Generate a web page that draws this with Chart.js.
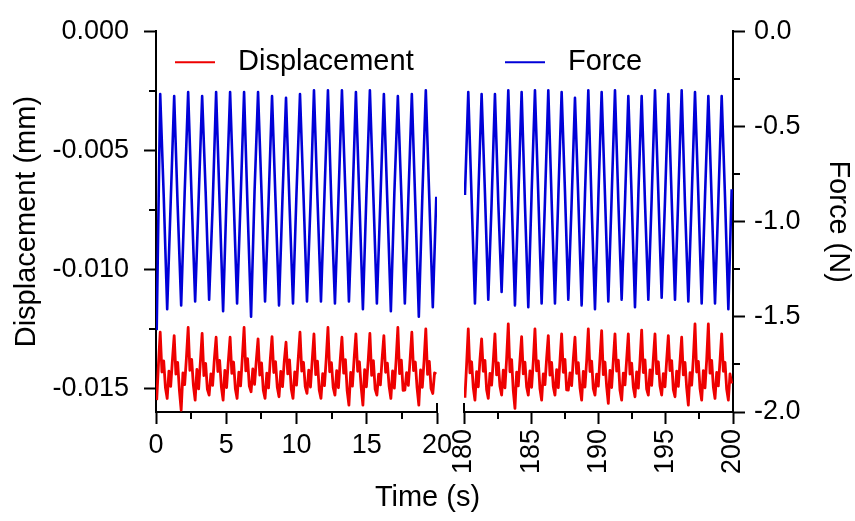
<!DOCTYPE html>
<html>
<head>
<meta charset="utf-8">
<title>Displacement and force</title>
<script src="https://cdn.jsdelivr.net/npm/chart.js@4.4.1/dist/chart.umd.min.js"></script>
<style>
  html, body { margin: 0; padding: 0; background: #fff; }
  #wrap { width: 855px; height: 521px; }
</style>
</head>
<body>
<div id="wrap"><canvas id="chart" width="855" height="521"></canvas></div>
<script>
// sample clock of each recording window (s)
const forceStartA = 0.05, forceStepA = 0.24875;
const forceStartB = 180.07, forceStepB = 0.2479;
const dispStartA = 0.05, dispStepA = 0.124375;
const dispStartB = 180.07, dispStepB = 0.12395;

// force (N), 0-20 s
const forceA = [
  -1.57,
  -0.33, -0.86, -1.46, -0.90,  -0.34, -0.92, -1.44, -0.85,
  -0.32, -0.88, -1.42, -0.88,  -0.34, -0.84, -1.41, -0.92,
  -0.32, -0.90, -1.47, -0.86,  -0.32, -0.87, -1.43, -0.89,
  -0.32, -0.93, -1.50, -0.84,  -0.32, -0.85, -1.42, -0.90,
  -0.34, -0.89, -1.44, -0.87,  -0.35, -0.91, -1.43, -0.85,
  -0.33, -0.86, -1.42, -0.91,  -0.31, -0.88, -1.42, -0.86,
  -0.31, -0.92, -1.43, -0.88,  -0.31, -0.85, -1.42, -0.90,
  -0.32, -0.89, -1.46, -0.86,  -0.31, -0.87, -1.43, -0.89,
  -0.33, -0.90, -1.47, -0.85,  -0.34, -0.86, -1.43, -0.88,
  -0.33, -0.91, -1.50, -0.87,  -0.31, -0.88, -1.45, -0.87
];

// force (N), 180-200 s
const forceB = [
  -0.86,
  -0.32, -0.88, -1.43, -0.87,  -0.33, -0.85, -1.41, -0.90,
  -0.33, -0.90, -1.37, -0.86,  -0.31, -0.87, -1.44, -0.88,
  -0.32, -0.91, -1.45, -0.85,  -0.31, -0.86, -1.43, -0.89,
  -0.31, -0.89, -1.43, -0.87,  -0.32, -0.84, -1.41, -0.90,
  -0.35, -0.88, -1.44, -0.86,  -0.31, -0.92, -1.46, -0.88,
  -0.32, -0.86, -1.42, -0.87,  -0.31, -0.89, -1.41, -0.90,
  -0.34, -0.87, -1.45, -0.86,  -0.34, -0.90, -1.41, -0.88,
  -0.31, -0.85, -1.40, -0.89,  -0.33, -0.88, -1.41, -0.86,
  -0.31, -0.91, -1.42, -0.88,  -0.32, -0.86, -1.43, -0.87,
  -0.34, -0.89, -1.43, -0.89,  -0.34, -0.87, -1.46, -0.83
];

// displacement (mm), 0-20 s
const dispA = [
  -0.01550, -0.01400,
  -0.01265, -0.01432, -0.01385, -0.01498, -0.01543, -0.01428, -0.01492, -0.01381,
  -0.01279, -0.01441, -0.01392, -0.01510, -0.01592, -0.01436, -0.01485, -0.01374,
  -0.01245, -0.01425, -0.01379, -0.01489, -0.01550, -0.01421, -0.01503, -0.01388,
  -0.01270, -0.01447, -0.01396, -0.01505, -0.01529, -0.01440, -0.01488, -0.01377,
  -0.01286, -0.01430, -0.01383, -0.01494, -0.01550, -0.01425, -0.01497, -0.01385,
  -0.01286, -0.01438, -0.01390, -0.01502, -0.01543, -0.01433, -0.01490, -0.01372,
  -0.01245, -0.01427, -0.01376, -0.01491, -0.01515, -0.01419, -0.01484, -0.01383,
  -0.01293, -0.01445, -0.01394, -0.01508, -0.01543, -0.01437, -0.01499, -0.01379,
  -0.01283, -0.01434, -0.01388, -0.01496, -0.01536, -0.01429, -0.01493, -0.01386,
  -0.01307, -0.01440, -0.01381, -0.01503, -0.01543, -0.01431, -0.01487, -0.01375,
  -0.01265, -0.01428, -0.01391, -0.01493, -0.01522, -0.01424, -0.01495, -0.01382,
  -0.01272, -0.01443, -0.01386, -0.01507, -0.01543, -0.01439, -0.01489, -0.01378,
  -0.01245, -0.01431, -0.01393, -0.01497, -0.01529, -0.01426, -0.01498, -0.01384,
  -0.01286, -0.01437, -0.01380, -0.01511, -0.01571, -0.01434, -0.01491, -0.01373,
  -0.01272, -0.01429, -0.01389, -0.01495, -0.01571, -0.01422, -0.01494, -0.01387,
  -0.01270, -0.01446, -0.01384, -0.01504, -0.01529, -0.01441, -0.01486, -0.01376,
  -0.01279, -0.01433, -0.01395, -0.01492, -0.01543, -0.01427, -0.01500, -0.01383,
  -0.01245, -0.01439, -0.01382, -0.01509, -0.01508, -0.01435, -0.01488, -0.01380,
  -0.01265, -0.01426, -0.01390, -0.01499, -0.01571, -0.01423, -0.01496, -0.01385,
  -0.01251, -0.01442, -0.01387, -0.01501, -0.01522, -0.01436, -0.01440
];

// displacement (mm), 180-200 s
const dispB = [
  -0.01540, -0.01400,
  -0.01251, -0.01436, -0.01389, -0.01497, -0.01550, -0.01430, -0.01494, -0.01380,
  -0.01293, -0.01429, -0.01383, -0.01506, -0.01543, -0.01438, -0.01487, -0.01385,
  -0.01272, -0.01444, -0.01394, -0.01492, -0.01529, -0.01424, -0.01499, -0.01376,
  -0.01230, -0.01431, -0.01380, -0.01510, -0.01585, -0.01433, -0.01490, -0.01382,
  -0.01283, -0.01440, -0.01391, -0.01495, -0.01529, -0.01427, -0.01496, -0.01387,
  -0.01251, -0.01427, -0.01385, -0.01503, -0.01550, -0.01440, -0.01485, -0.01374,
  -0.01279, -0.01445, -0.01392, -0.01494, -0.01529, -0.01422, -0.01498, -0.01384,
  -0.01272, -0.01433, -0.01379, -0.01507, -0.01508, -0.01436, -0.01489, -0.01378,
  -0.01286, -0.01438, -0.01393, -0.01498, -0.01550, -0.01429, -0.01495, -0.01386,
  -0.01251, -0.01430, -0.01386, -0.01502, -0.01529, -0.01441, -0.01491, -0.01373,
  -0.01258, -0.01443, -0.01390, -0.01493, -0.01564, -0.01425, -0.01497, -0.01383,
  -0.01272, -0.01428, -0.01382, -0.01509, -0.01550, -0.01437, -0.01486, -0.01379,
  -0.01272, -0.01441, -0.01395, -0.01496, -0.01536, -0.01431, -0.01500, -0.01385,
  -0.01256, -0.01434, -0.01381, -0.01504, -0.01529, -0.01423, -0.01488, -0.01377,
  -0.01272, -0.01439, -0.01389, -0.01491, -0.01529, -0.01439, -0.01494, -0.01382,
  -0.01279, -0.01426, -0.01384, -0.01506, -0.01536, -0.01428, -0.01492, -0.01388,
  -0.01286, -0.01444, -0.01392, -0.01499, -0.01571, -0.01435, -0.01487, -0.01375,
  -0.01230, -0.01432, -0.01387, -0.01501, -0.01550, -0.01426, -0.01499, -0.01381,
  -0.01230, -0.01437, -0.01383, -0.01495, -0.01543, -0.01434, -0.01490, -0.01384,
  -0.01272, -0.01429, -0.01391, -0.01505, -0.01550, -0.01440, -0.01480
];

const seriesNames = ['Displacement', 'Force'];

// minor tick positions
const minorTimeA = [2.5, 7.5, 12.5, 17.5];
const minorTimeB = [182.5, 187.5, 192.5, 197.5];
const minorDisp = [-0.0025, -0.0075, -0.0125];
const minorForce = [-0.25, -0.75, -1.25, -1.75];

const red = '#ee0000';
const blue = '#0000d8';
const fontFamily = '"Liberation Sans", Arial, sans-serif';

Chart.defaults.font.family = fontFamily;
Chart.defaults.color = '#000';

function toPoints(start, step, values) {
  return values.map((v, i) => ({ x: start + i * step, y: v }));
}

function lineDataset(label, color, xAxisID, yAxisID, points, width) {
  return {
    label,
    data: points,
    xAxisID,
    yAxisID,
    borderColor: color,
    backgroundColor: color,
    borderWidth: width,
    borderJoinStyle: 'round',
    pointRadius: 0,
    tension: 0,
    fill: false
  };
}

const tickFont = { size: 27 };
const titleFont = { size: 29 };

function timeAxis(min, max, weight, rotation) {
  return {
    type: 'linear',
    position: 'bottom',
    stack: 'time',
    stackWeight: weight,
    min: min,
    max: max,
    ticks: {
      stepSize: 5,
      autoSkip: false,
      minRotation: rotation,
      maxRotation: rotation,
      padding: 5,
      font: tickFont
    },
    grid: { drawOnChartArea: false, tickLength: 12, tickWidth: 2, tickColor: '#000' },
    border: { color: '#000', width: 2 },
    afterFit: (scale) => { scale.height = 68.2; }
  };
}

// short minor ticks and the end marks at the axis break
const minorTicks = {
  id: 'minorTicks',
  afterDraw(chart) {
    const { ctx, chartArea: area, scales } = chart;
    const len = 7;
    ctx.save();
    ctx.strokeStyle = '#000';
    ctx.lineWidth = 2;
    ctx.beginPath();
    [['x1', minorTimeA], ['x2', minorTimeB]].forEach(([id, values]) => {
      values.forEach(v => {
        const x = Math.round(scales[id].getPixelForValue(v));
        ctx.moveTo(x, area.bottom);
        ctx.lineTo(x, area.bottom + len);
      });
    });
    minorDisp.forEach(v => {
      const y = Math.round(scales.yD.getPixelForValue(v));
      ctx.moveTo(area.left, y);
      ctx.lineTo(area.left - len, y);
    });
    minorForce.forEach(v => {
      const y = Math.round(scales.yF.getPixelForValue(v));
      ctx.moveTo(area.right, y);
      ctx.lineTo(area.right + len, y);
    });
    const xa = Math.round(scales.x1.getPixelForValue(scales.x1.max));
    const xb = Math.round(scales.x2.getPixelForValue(scales.x2.min));
    ctx.moveTo(xa, area.bottom);
    ctx.lineTo(xa, area.bottom - 9);
    ctx.moveTo(xb, area.bottom);
    ctx.lineTo(xb, area.bottom - 9);
    ctx.stroke();
    ctx.restore();
  }
};

// legend drawn inside the plot, one short line per series
const legendX = [19, 349];
const lineLegend = {
  id: 'lineLegend',
  afterDraw(chart) {
    const { ctx, chartArea: area } = chart;
    const y = area.top + 31;
    ctx.save();
    ctx.font = '29px ' + fontFamily;
    ctx.textBaseline = 'middle';
    seriesNames.forEach((name, i) => {
      const x = area.left + legendX[i];
      ctx.strokeStyle = i === 0 ? red : blue;
      ctx.lineWidth = 2;
      ctx.beginPath();
      ctx.moveTo(x, y);
      ctx.lineTo(x + 40, y);
      ctx.stroke();
      ctx.fillStyle = '#000';
      ctx.fillText(name, x + 63, y);
    });
    ctx.restore();
  }
};

const ctx = document.getElementById('chart').getContext('2d');
new Chart(ctx, {
  type: 'line',
  data: {
    datasets: [
      lineDataset(seriesNames[0], red, 'x1', 'yD', toPoints(dispStartA, dispStepA, dispA), 2.8),
      lineDataset(seriesNames[0], red, 'x2', 'yD', toPoints(dispStartB, dispStepB, dispB), 2.8),
      lineDataset(seriesNames[1], blue, 'x1', 'yF', toPoints(forceStartA, forceStepA, forceA), 2.6),
      lineDataset(seriesNames[1], blue, 'x2', 'yF', toPoints(forceStartB, forceStepB, forceB), 2.6)
    ]
  },
  options: {
    responsive: false,
    animation: false,
    devicePixelRatio: 1,
    layout: { autoPadding: false, padding: { top: 28, left: 0, right: 0, bottom: 0 } },
    plugins: {
      legend: { display: false },
      tooltip: { enabled: false },
      title: {
        display: true,
        position: 'bottom',
        text: 'Time (s)',
        color: '#000',
        font: { size: 29, weight: 'normal' },
        padding: { top: 0, bottom: 6 }
      }
    },
    scales: {
      x1: timeAxis(0, 20, 281, 0),
      gap: {
        type: 'linear',
        position: 'bottom',
        stack: 'time',
        stackWeight: 27,
        ticks: { display: false },
        grid: { display: false },
        border: { display: false },
        afterFit: (scale) => { scale.height = 68.2; }
      },
      x2: timeAxis(180, 200, 269, 90),
      yD: {
        type: 'linear',
        position: 'left',
        min: -0.016,
        max: 0,
        ticks: {
          stepSize: 0.005,
          includeBounds: false,
          padding: 15,
          font: tickFont,
          callback: (v) => v.toFixed(3)
        },
        grid: { drawOnChartArea: false, tickLength: 12, tickWidth: 2, tickColor: '#000' },
        border: { color: '#000', width: 2 },
        title: { display: true, text: 'Displacement (mm)', font: titleFont, padding: { top: 10, bottom: 0 } },
        afterFit: (scale) => { scale.width = 156; }
      },
      yF: {
        type: 'linear',
        position: 'right',
        min: -2,
        max: 0,
        ticks: {
          stepSize: 0.5,
          padding: 9,
          font: tickFont,
          callback: (v) => v.toFixed(1)
        },
        grid: { drawOnChartArea: false, tickLength: 12, tickWidth: 2, tickColor: '#000' },
        border: { color: '#000', width: 2 },
        title: { display: true, text: 'Force (N)', font: titleFont, padding: { top: 0, bottom: 0 } },
        afterFit: (scale) => { scale.width = 122; }
      }
    }
  },
  plugins: [minorTicks, lineLegend]
});
</script>
</body>
</html>
